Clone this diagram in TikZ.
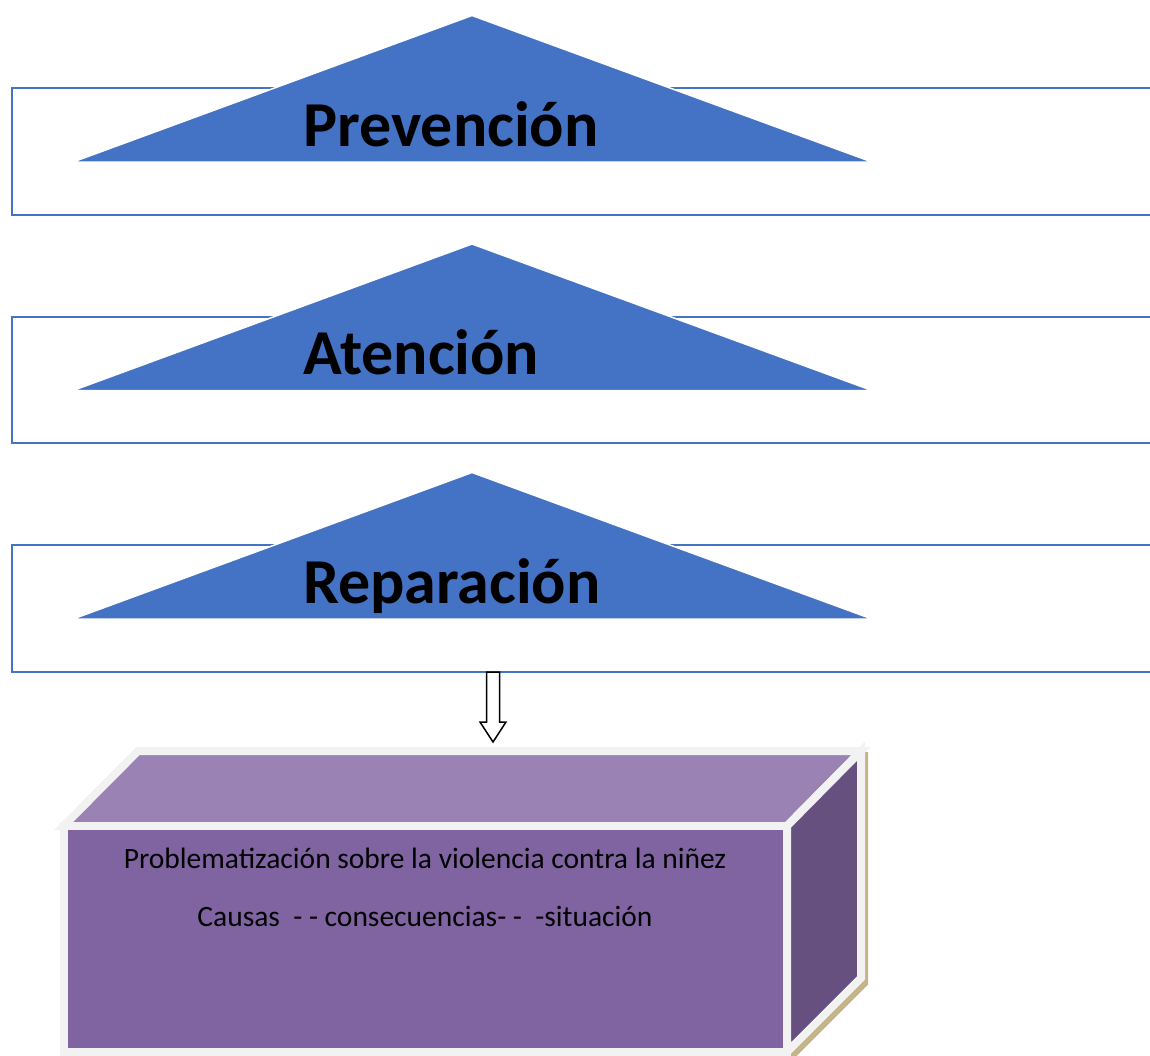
\documentclass[tikz,border=0pt]{standalone}
\usepackage{fontspec}
\setmainfont{Carlito}
\usetikzlibrary{calc}

\definecolor{bandblue}{RGB}{68,114,196}
\definecolor{boxfront}{RGB}{128,100,162}
\definecolor{boxtop}{RGB}{154,131,180}
\definecolor{boxside}{RGB}{102,80,128}
\definecolor{boxrim}{RGB}{242,242,242}
\definecolor{boxshadow}{RGB}{196,180,138}

\begin{document}
\begin{tikzpicture}[x = 1pt, y = -1pt, > = stealth,
        band/.style = {draw = bandblue, line width = 2},
        peak/.style = {fill = bandblue, draw = white, line width = 1.5},
        level/.style = {anchor = base west, font = \bfseries\fontsize{64}{64}\selectfont, inner sep = 0},
        face/.style = {draw = boxrim, line width = 8, line join = miter},
        boxtext/.style = {anchor = base, font = \fontsize{29.5}{29.5}\selectfont, inner sep = 0}]
            \useasboundingbox (0, 0) rectangle (1150, 1055);
            \clip (0, 0) rectangle (1150, 1055);

            % bands
            \draw[band] (12, 88) rectangle (1165, 215);
            \draw[band] (12, 317) rectangle (1165, 443);
            \draw[band] (12, 545) rectangle (1165, 672);

            \draw[peak] (73, 162) -- (472, 15.5) -- (872, 162) -- cycle;
            \draw[peak] (73, 390.5) -- (472, 244) -- (872, 390.5) -- cycle;
            \draw[peak] (73, 619) -- (472, 472.5) -- (872, 619) -- cycle;

            \node[level] (prevencion) at (303, 146) {Prevención};
            \node[level] (atencion) at (303, 374.5) {Atención};
            \node[level] (reparacion) at (303, 603) {Reparación};

            % hollow arrow
            \coordinate (arrtop) at (493, 672);
            \coordinate (arrtip) at (493, 742);
            \draw[line width = 1.5, fill = white, line join = miter]
                ($(arrtop) + (-6.5, 0)$) -- ($(arrtop) + (-6.5, 50)$) -- ($(arrtop) + (-13, 50)$)
                -- (arrtip) -- ($(arrtop) + (13, 50)$) -- ($(arrtop) + (6.5, 50)$) -- ($(arrtop) + (6.5, 0)$) -- cycle;

            % box
            \fill[boxshadow, draw = boxshadow, line width = 8, xshift = 3, yshift = -5]
                (63.5, 826) -- (138, 751) -- (861, 751) -- (861, 978) -- (787, 1052) -- (63.5, 1052) -- cycle;
            \filldraw[face, fill = boxtop] (63.5, 826) -- (138, 751) -- (861, 751) -- (787, 826) -- cycle;
            \filldraw[face, fill = boxside] (787, 826) -- (861, 751) -- (861, 978) -- (787, 1052) -- cycle;
            \filldraw[face, fill = boxfront] (63.5, 826) rectangle (787, 1052);

            \node[boxtext] (problema) at (425, 868) {Problematización sobre la violencia contra la niñez};
            \node[boxtext] (causas) at (425, 926) {Causas\ \ - - consecuencias- -\ \ -situación};

        \end{tikzpicture}
\end{document}
